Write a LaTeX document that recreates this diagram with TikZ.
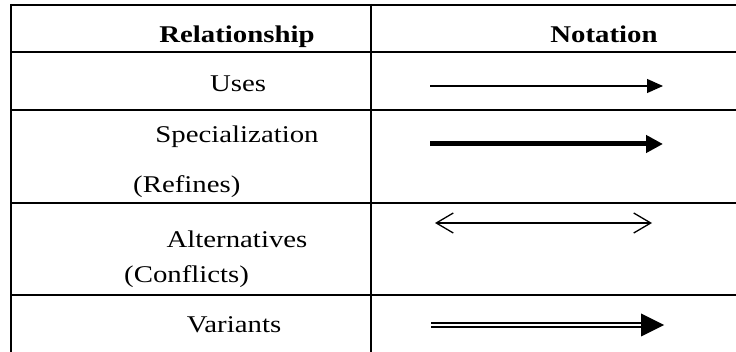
\documentclass[tikz,border=0pt]{standalone}
\usepackage{fontspec}
\setmainfont{Liberation Serif}[FakeStretch=1.2]
\usepackage{tikz}
\usetikzlibrary{arrows.meta, positioning}

\tikzset{
  rule/.style={line width=2pt},
  cell/.style={font=\fontsize{24}{28}\selectfont, anchor=base, inner sep=0pt},
  headcell/.style={cell, font=\fontsize{24}{28}\selectfont\bfseries},
  usesarrow/.style={line width=1.2pt, -{Triangle[length=16pt,width=14pt]}},
  refinesarrow/.style={line width=5pt, -{Triangle[length=17pt,width=17pt]}},
  conflictarrow/.style={line width=1.3pt, {Straight Barb[length=17pt,width=20pt]}-{Straight Barb[length=17pt,width=20pt]}},
  variantline/.style={line width=1.8pt, double, double distance=2.6pt}
}

\begin{document}
\begin{tikzpicture}[x=1pt, y=-1pt]
  \useasboundingbox (0,0) rectangle (736,352);

  % Table rules
  \foreach \y in {5,52,110,203,295}
    \draw[rule] (11,\y) -- (736,\y);
  \draw[rule] (11,4) -- (11,352);
  \draw[rule] (371,4) -- (371,352);

  % Header
  \node[headcell] (relhead) at (237,43) {Relationship};
  \node[headcell] (nothead) at (604,43) {Notation};

  % Relationship names
  \node[cell] (uses) at (238,92) {Uses};
  \node[cell] (spec) at (237,143) {Specialization};
  \node[cell, anchor=base west] (refines) at (133,193) {(Refines)};
  \node[cell] (alt) at (237,248) {Alternatives};
  \node[cell, anchor=base west] (conflicts) at (124,283) {(Conflicts)};
  \node[cell] (variants) at (234,333) {Variants};

  % Notation arrows
  \coordinate (u1) at (430,86);
  \coordinate (u2) at (663,86);
  \draw[usesarrow] (u1) -- (u2);

  \coordinate (s1) at (430,144);
  \coordinate (s2) at (663,144);
  \draw[refinesarrow] (s1) -- (s2);

  \coordinate (a1) at (435,223);
  \coordinate (a2) at (652,223);
  \draw[conflictarrow] (a1) -- (a2);

  \coordinate (v1) at (431,325);
  \coordinate (v2) at (643,325);
  \coordinate (v3) at (664,325);
  \draw[variantline] (v1) -- (v2);
  \fill (v3) -- ++(-23,-11.5) -- ++(0,23) -- cycle;
\end{tikzpicture}
\end{document}
